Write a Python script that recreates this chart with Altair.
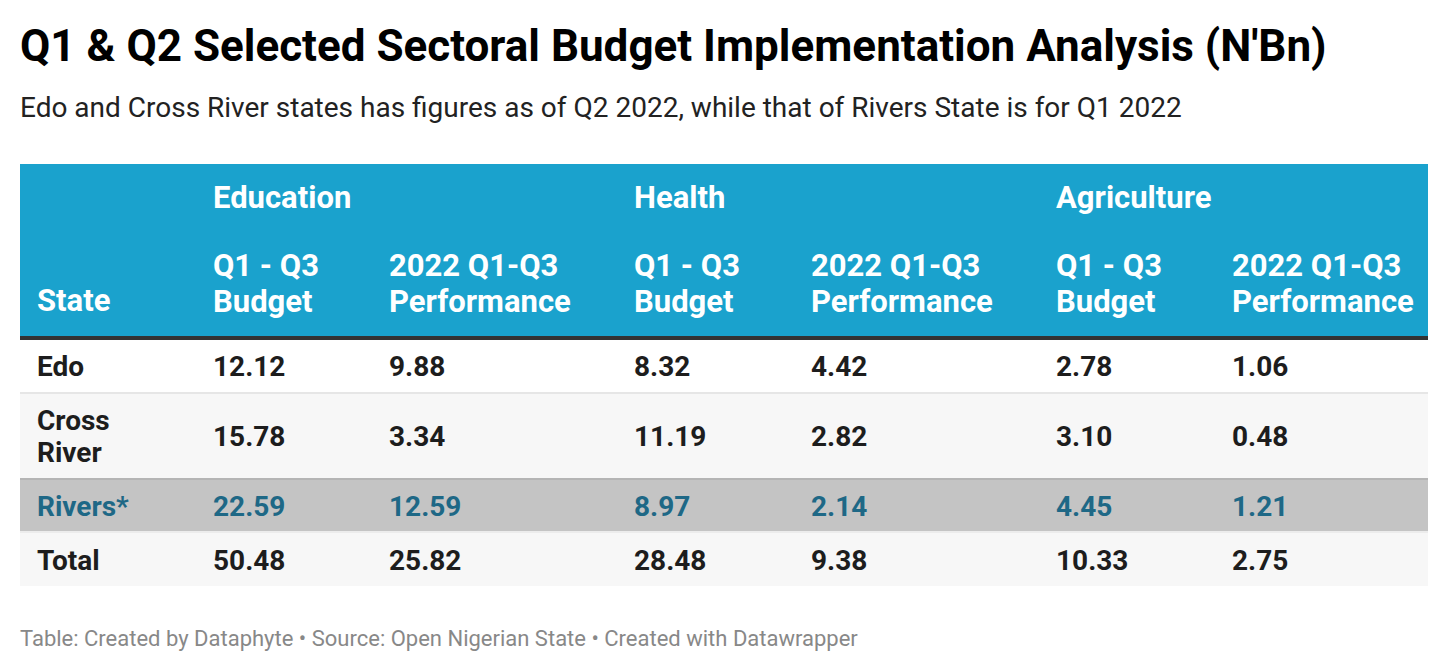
import altair as alt
import pandas as pd

# ---------------- data ----------------
states = ["Edo", "Cross\nRiver", "Rivers*", "Total"]
sectors = ["Education", "Health", "Agriculture"]
sub_headers = ["Q1 - Q3\nBudget", "2022 Q1-Q3\nPerformance"]
edu_budget = [12.12, 15.78, 22.59, 50.48]
edu_perf = [9.88, 3.34, 12.59, 25.82]
health_budget = [8.32, 11.19, 8.97, 28.48]
health_perf = [4.42, 2.82, 2.14, 9.38]
agri_budget = [2.78, 3.10, 4.45, 10.33]
agri_perf = [1.06, 0.48, 1.21, 2.75]
highlight_state = "Rivers*"

title = "Q1 & Q2 Selected Sectoral Budget Implementation Analysis (N'Bn)"
subtitle = "Edo and Cross River states has figures as of Q2 2022, while that of Rivers State is for Q1 2022"
footer = "Table: Created by Dataphyte • Source: Open Nigerian State • Created with Datawrapper"

# ---------------- layout ----------------
W, H = 1408, 492
col_x = [17, 193, 369, 614, 791, 1036, 1212]
header_h, rule_h, sep_h = 172, 4, 2
row_h = [52, 84, 51, 53]
row_fill = ["#ffffff", "#f7f7f7", "#c4c4c4", "#f7f7f7"]
sep_fill = ["#e6e6e6", "#b5b5b5", "#ececec"]
row_text_baseline_off = [36, 52, 36, 37]   # baseline offset inside each row (numbers)
state_first_baseline_off = [36, 36, 36, 37]

BLUE = "#1aa2cd"
TEXT = "#1d1d1d"
HL = "#1e6886"

# background bands
bands = [dict(y0=0, y1=header_h, fill=BLUE),
         dict(y0=header_h, y1=header_h + rule_h, fill="#333333")]
y = header_h + rule_h
row_top = []
for i, h in enumerate(row_h):
    row_top.append(y)
    bands.append(dict(y0=y, y1=y + h, fill=row_fill[i]))
    y += h
    if i < len(sep_fill):
        bands.append(dict(y0=y, y1=y + sep_h, fill=sep_fill[i]))
        y += sep_h
bands_df = pd.DataFrame(bands)
bands_df["x0"] = 0
bands_df["x1"] = W

xs = alt.Scale(domain=[0, W], range=[0, W], zero=False, nice=False)
ys = alt.Scale(domain=[0, H], range=[0, H], zero=False, nice=False)

band_layer = alt.Chart(bands_df).mark_rect().encode(
    x=alt.X("x0:Q", scale=xs, axis=None), x2="x1:Q",
    y=alt.Y("y0:Q", scale=ys, axis=None), y2="y1:Q",
    color=alt.Color("fill:N", scale=None),
)

# header texts
hdr = [dict(x=col_x[1 + 2 * i], y=44, t=s) for i, s in enumerate(sectors)]
hdr.append(dict(x=col_x[0], y=147, t="State"))
for i in range(3):
    for j, sh in enumerate(sub_headers):
        hdr.append(dict(x=col_x[1 + 2 * i + j], y=112, t=sh))
hdr_layer = alt.Chart(pd.DataFrame(hdr)).mark_text(
    align="left", baseline="alphabetic", font="Roboto", fontWeight="bold",
    fontSize=31, color="white", lineBreak="\n", lineHeight=36,
).encode(x=alt.X("x:Q", scale=xs), y=alt.Y("y:Q", scale=ys), text="t:N")

# body cells
series = [edu_budget, edu_perf, health_budget, health_perf, agri_budget, agri_perf]
cells = []
for r, st in enumerate(states):
    cells.append(dict(x=col_x[0], y=row_top[r] + state_first_baseline_off[r], t=st,
                      c=HL if st == highlight_state else TEXT))
body_rows = []
for c, ser in enumerate(series):
    for r, v in enumerate(ser):
        body_rows.append(dict(x=col_x[c + 1], y=row_top[r] + row_text_baseline_off[r], v=v,
                              c=HL if states[r] == highlight_state else TEXT))

state_layer = alt.Chart(pd.DataFrame(cells)).mark_text(
    align="left", baseline="alphabetic", font="Roboto", fontWeight="bold",
    fontSize=28, lineBreak="\n", lineHeight=32,
).encode(x=alt.X("x:Q", scale=xs), y=alt.Y("y:Q", scale=ys), text="t:N",
         color=alt.Color("c:N", scale=None))

num_layer = alt.Chart(pd.DataFrame(body_rows)).mark_text(
    align="left", baseline="alphabetic", font="Roboto", fontWeight="bold", fontSize=28,
).encode(x=alt.X("x:Q", scale=xs), y=alt.Y("y:Q", scale=ys),
         text=alt.Text("v:Q", format=".2f"), color=alt.Color("c:N", scale=None))

foot_layer = alt.Chart(pd.DataFrame([dict(x=0, y=482, t=footer)])).mark_text(
    align="left", baseline="alphabetic", font="Roboto", fontSize=22, color="#888888",
).encode(x=alt.X("x:Q", scale=xs), y=alt.Y("y:Q", scale=ys), text="t:N")

chart = alt.layer(band_layer, hdr_layer, state_layer, num_layer, foot_layer).properties(
    width=W, height=H,
    title=alt.Title(title, subtitle=subtitle, anchor="start", font="Roboto",
                    fontSize=44, fontWeight="bold", color="#000000",
                    subtitleFont="Roboto", subtitleFontSize=28, subtitleColor="#222222",
                    subtitlePadding=25, offset=41),
    padding={"left": 12, "top": 156, "right": 12, "bottom": 8},
    autosize=alt.AutoSizeParams(type="none"),
).configure_view(stroke=None)

chart.save("out.html", embed_options={"renderer": "svg", "actions": False})
